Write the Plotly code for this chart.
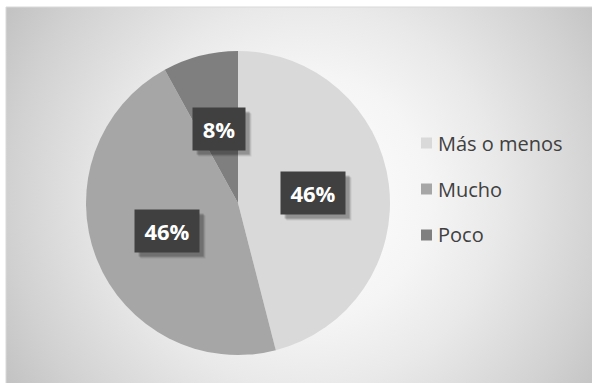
import math
import urllib.parse
import plotly.graph_objects as go

# Survey answers and their shares (percent)
labels = ["Más o menos", "Mucho", "Poco"]
values = [46, 46, 8]
colors = ["#d9d9d9", "#a6a6a6", "#7f7f7f"]

W, H = 592, 383
# Pie placement in pixels
cx, cy, R = 238, 203, 152

fig = go.Figure()

fig.add_trace(go.Pie(
    labels=labels,
    values=values,
    sort=False,
    direction="clockwise",
    rotation=0,
    textinfo="none",
    marker=dict(colors=colors, line=dict(width=0)),
    domain=dict(x=[(cx - R) / W, (cx + R) / W],
                y=[1 - (cy + R) / H, 1 - (cy - R) / H]),
    showlegend=False,
    hoverinfo="label+percent",
))

# Radial gradient chart-area background as an inline SVG
svg = (
    "<svg xmlns='http://www.w3.org/2000/svg' width='586' height='376' viewBox='0 0 586 376'>"
    "<defs><radialGradient id='g' gradientUnits='userSpaceOnUse' cx='300' cy='190' r='350'>"
    "<stop offset='0' stop-color='#ffffff'/>"
    "<stop offset='0.35' stop-color='#f5f5f5'/>"
    "<stop offset='0.55' stop-color='#e9e9e9'/>"
    "<stop offset='0.85' stop-color='#d1d1d1'/>"
    "<stop offset='1' stop-color='#c3c3c3'/>"
    "</radialGradient></defs>"
    "<rect width='586' height='376' fill='url(#g)'/></svg>"
)
src = "data:image/svg+xml;charset=utf-8," + urllib.parse.quote(svg)
fig.add_layout_image(dict(
    source=src, xref="paper", yref="paper",
    x=6 / W, y=1 - 7 / H, sizex=586 / W, sizey=376 / H,
    xanchor="left", yanchor="top", sizing="stretch", layer="below",
))

fig.add_shape(type="rect", xref="paper", yref="paper",
              x0=6 / W, x1=1.01, y0=-0.01, y1=1 - 7 / H,
              line=dict(color="#d9d9d9", width=1), layer="below")

# Percentage labels in dark boxes at half radius along each slice's mid-angle
total = sum(values)
cum = 0
for lab, v in zip(labels, values):
    mid = (cum + v / 2) / total * 2 * math.pi
    cum += v
    d = 0.5 * R
    px = cx + d * math.sin(mid)
    py = cy - d * math.cos(mid)
    txt = f"{round(v / total * 100)}%"
    w = 50 if len(txt) == 3 else 38
    common = dict(xref="paper", yref="paper", x=px / W, y=1 - py / H,
                  xanchor="center", yanchor="middle",
                  showarrow=False, width=w, height=28, borderpad=7)
    # soft drop shadow
    for sh, op in [(6, 0.08), (5, 0.12), (4, 0.16)]:
        fig.add_annotation(text="", bgcolor=f"rgba(0,0,0,{op})",
                           xshift=sh, yshift=-sh, **common)
    fig.add_annotation(text=f"<b>{txt}</b>", bgcolor="#404040",
                       font=dict(family="Open Sans", size=22, color="#ffffff"),
                       **common)

# Legend drawn as swatches and labels
leg_x, leg_y0, leg_dy = 421, 143, 46
for i, (lab, col) in enumerate(zip(labels, colors)):
    yy = leg_y0 + i * leg_dy
    fig.add_shape(type="rect", xref="paper", yref="paper",
                  x0=leg_x / W, x1=(leg_x + 11) / W,
                  y0=1 - (yy + 5.5) / H, y1=1 - (yy - 5.5) / H,
                  fillcolor=col, line=dict(width=0))
    fig.add_annotation(text=lab, xref="paper", yref="paper",
                       x=(leg_x + 15) / W, y=1 - yy / H,
                       xanchor="left", yanchor="middle", showarrow=False,
                       font=dict(family="Open Sans", size=20, color="#404040"))

fig.update_layout(
    width=W, height=H,
    margin=dict(l=0, r=0, t=0, b=0),
    paper_bgcolor="#ffffff",
    plot_bgcolor="#ffffff",
)

fig.write_html("out.html")
